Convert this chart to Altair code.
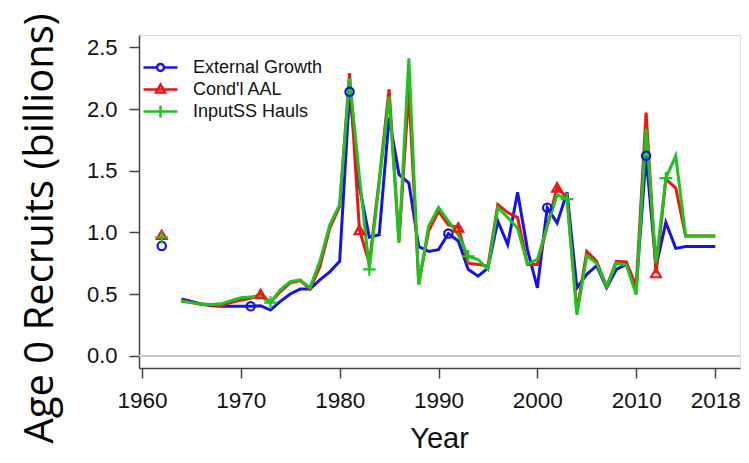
import pandas as pd
import altair as alt

# Series names, colours and the years that carry a plotting symbol
series_names = ["External Growth", "Cond'l AAL", "InputSS Hauls"]
series_colors = ["#1414e6", "#f01414", "#1ec31e"]

first_year = 1962
years = list(range(1964, 2019))

# Age 0 recruits (billions), 1962 stands alone, then 1964-2018
ext_first = 0.89
ext_growth = [0.46, 0.44, 0.42, 0.405, 0.40, 0.40, 0.40, 0.40, 0.405, 0.37,
              0.44, 0.50, 0.54, 0.54, 0.615, 0.68, 0.765, 2.14, 1.37, 0.96,
              0.98, 1.93, 1.47, 1.40, 0.885, 0.845, 0.86, 0.99, 0.93, 0.70,
              0.645, 0.71, 1.09, 0.90, 1.325, 0.86, 0.55, 1.20, 1.075, 1.325,
              0.55, 0.66, 0.73, 0.55, 0.70, 0.74, 0.55, 1.62, 0.72, 1.08,
              0.87, 0.885, 0.885, 0.885, 0.885]

aal_first = 0.98
cond_aal = [0.45, 0.43, 0.415, 0.41, 0.405, 0.43, 0.45, 0.465, 0.50, 0.43,
            0.52, 0.59, 0.61, 0.54, 0.72, 1.035, 1.21, 2.29, 1.02, 0.75,
            1.42, 2.16, 0.93, 2.15, 0.59, 1.01, 1.17, 1.06, 1.04, 0.75,
            0.74, 0.725, 1.225, 1.16, 1.12, 0.74, 0.74, 1.05, 1.365, 1.28,
            0.36, 0.845, 0.765, 0.56, 0.765, 0.76, 0.56, 1.97, 0.67, 1.43,
            1.36, 0.97, 0.97, 0.97, 0.97]

hauls_first = 0.96
input_hauls = [0.44, 0.43, 0.42, 0.415, 0.42, 0.445, 0.47, 0.475, 0.48, 0.43,
               0.535, 0.60, 0.615, 0.55, 0.765, 1.06, 1.225, 2.25, 1.45, 0.70,
               1.40, 2.10, 0.915, 2.41, 0.575, 1.05, 1.20, 1.09, 0.98, 0.805,
               0.78, 0.70, 1.20, 1.12, 1.035, 0.74, 0.78, 1.05, 1.305, 1.27,
               0.33, 0.81, 0.75, 0.56, 0.75, 0.735, 0.495, 1.84, 0.75, 1.44,
               1.62, 0.97, 0.97, 0.97, 0.97]

ext_marks = [1962, 1971, 1981, 1991, 2001, 2011]
aal_marks = [1962, 1972, 1982, 1992, 2002, 2012]
hauls_marks = [1962, 1973, 1983, 1993, 2003, 2013]

x_ticks = [1960, 1970, 1980, 1990, 2000, 2010, 2018]
y_ticks = [0.0, 0.5, 1.0, 1.5, 2.0, 2.5]

# Build a long table
rows = []
for name, first, vals, marks in zip(series_names,
                                    [ext_first, aal_first, hauls_first],
                                    [ext_growth, cond_aal, input_hauls],
                                    [ext_marks, aal_marks, hauls_marks]):
    rows.append({"series": name, "year": first_year, "value": first, "marker": True})
    for yr, v in zip(years, vals):
        rows.append({"series": name, "year": yr, "value": v, "marker": yr in marks})
df = pd.DataFrame(rows)

# Point shapes: open circle, open triangle, thin plus
point_shapes = ["circle", "triangle-up", "M-1,0H1M0,-1V1"]
point_sizes = [70, 95, 160]
# Legend symbols: a line with the symbol in the middle (drawn wider than the symbol box)
legend_shapes = [
    "M-1.7,0H-0.35M0.35,0H1.7M0.35,0A0.35,0.35,0,1,1,-0.35,0A0.35,0.35,0,1,1,0.35,0",
    "M-1.7,0H1.7M0,-0.5L0.45,0.3L-0.45,0.3Z",
    "M-1.7,0H1.7M0,-0.6V0.6",
]

x_enc = alt.X("year:Q",
              scale=alt.Scale(domain=[1959.7, 2020.5], nice=False, zero=False),
              axis=alt.Axis(values=x_ticks, format="d", title="Year",
                            grid=False, labelFlush=False, labelOverlap=False,
                            labelFont="Liberation Sans", labelFontSize=22.5,
                            labelColor="#111", labelPadding=11,
                            tickSize=10, tickWidth=1.5, tickColor="#444",
                            domainColor="#444", domainWidth=1.5,
                            titleFont="Liberation Sans", titleFontSize=29,
                            titleFontWeight="normal", titleColor="#111",
                            titleX=300, titleY=79, titleAlign="center",
                            titleBaseline="alphabetic"))
y_enc = alt.Y("value:Q",
              scale=alt.Scale(domain=[-0.1, 2.6], nice=False, zero=False),
              axis=alt.Axis(values=y_ticks, format=".1f",
                            title="Age 0 Recruits (billions)",
                            grid=False, labelFlush=False,
                            labelFont="Liberation Sans", labelFontSize=22,
                            labelColor="#111", labelPadding=12,
                            tickSize=10, tickWidth=1.5, tickColor="#444",
                            domainColor="#444", domainWidth=1.5,
                            titleFont="Open Sans", titleFontSize=40,
                            titleFontWeight="normal", titleColor="#000",
                            titleAngle=270, titleX=-87, titleY=193,
                            titleAlign="center", titleBaseline="alphabetic"))

base = alt.Chart(df)

zero_line = base.mark_rule(color="#c8c8c8", strokeWidth=1.5).encode(y=alt.datum(0))

layers = [zero_line]
for name, col in zip(series_names, series_colors):
    layers.append(
        base.mark_line(color=col, strokeWidth=3).encode(x=x_enc, y=y_enc)
        .transform_filter(alt.FieldEqualPredicate(field="series", equal=name))
        .transform_filter(alt.FieldGTEPredicate(field="year", gte=1964))
    )
for name, col, shp, sz in zip(series_names, series_colors, point_shapes, point_sizes):
    layers.append(
        base.mark_point(color=col, shape=shp, size=sz, filled=False, strokeWidth=2.2, opacity=1)
        .encode(x=x_enc, y=y_enc)
        .transform_filter(alt.FieldEqualPredicate(field="series", equal=name))
        .transform_filter(alt.FieldEqualPredicate(field="marker", equal=True))
    )

legend_def = alt.Legend(title=None, orient="none", legendX=10, legendY=21,
                        symbolSize=400, symbolStrokeWidth=2.5,
                        labelFont="Liberation Sans", labelFontSize=18,
                        labelColor="#111", labelOffset=21, rowPadding=1,
                        padding=0)
legend_layer = base.mark_point(filled=False, opacity=1).encode(
    color=alt.Color("series:N", scale=alt.Scale(domain=series_names, range=series_colors),
                    legend=legend_def),
    shape=alt.Shape("series:N", scale=alt.Scale(domain=series_names, range=legend_shapes),
                    legend=legend_def),
).transform_filter(alt.FieldEqualPredicate(field="series", equal="none"))
layers.append(legend_layer)

chart = alt.layer(*layers).properties(
    width=601, height=333,
    autosize=alt.AutoSizeParams(type="none"),
    padding={"left": 131, "top": 27, "right": 1, "bottom": 87},
).configure_view(stroke=None).configure(background="white")

chart.save("out.html", embed_options={"renderer": "svg", "actions": False})
